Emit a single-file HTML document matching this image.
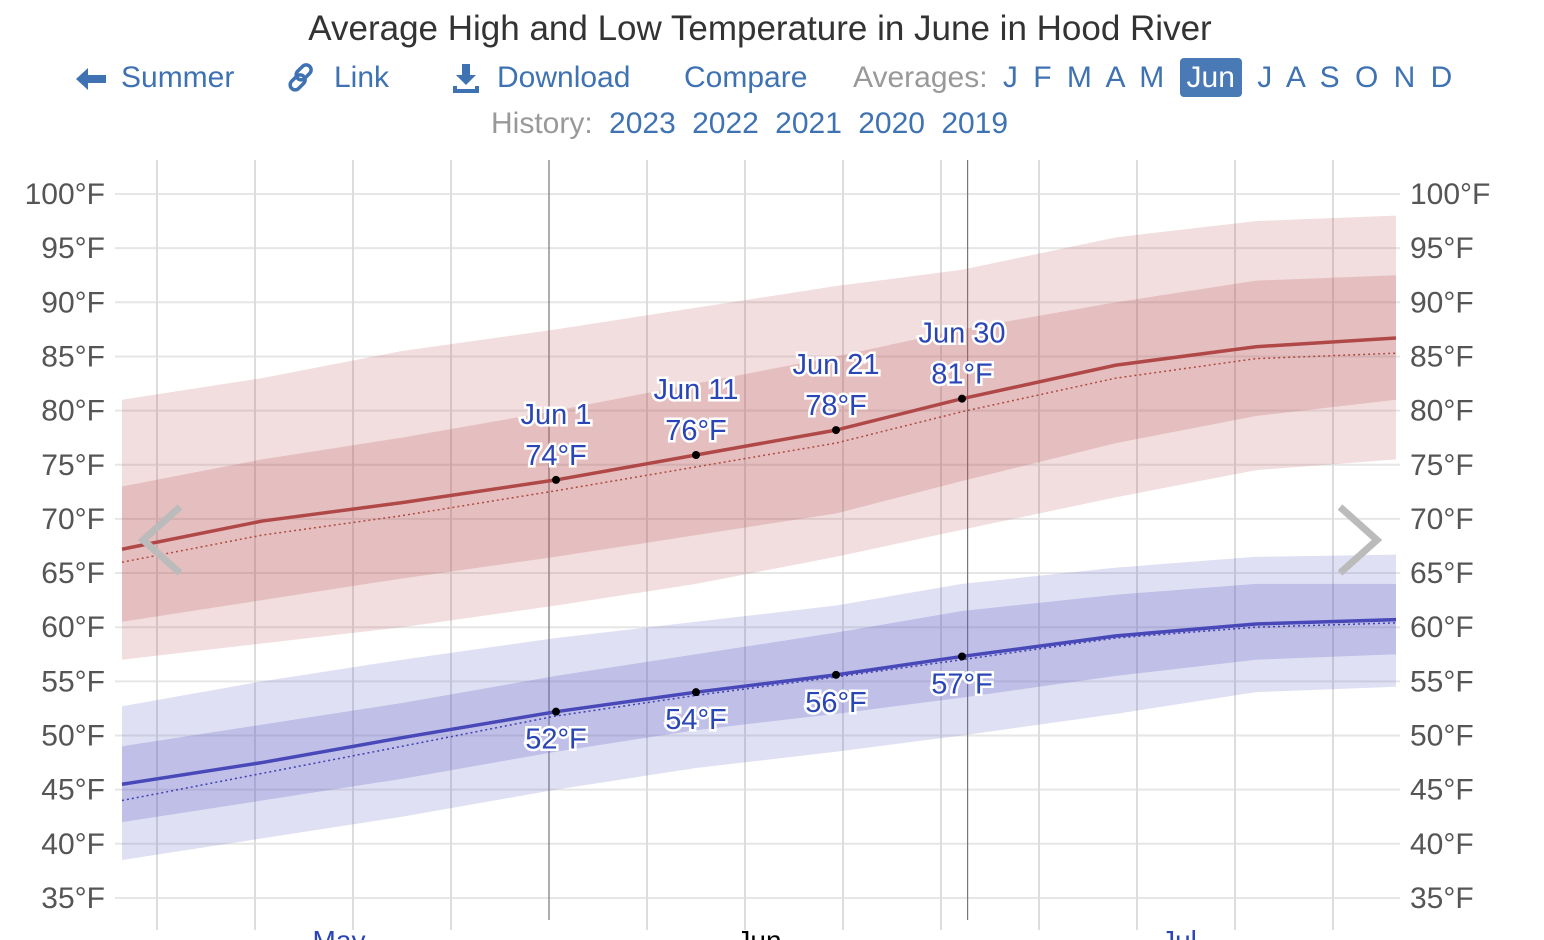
<!DOCTYPE html>
<html><head><meta charset="utf-8">
<style>
body{margin:0;width:1544px;height:940px;overflow:hidden;background:#fff;font-family:"Liberation Sans",sans-serif;}
#title{position:absolute;top:9px;left:0;width:1520px;text-align:center;font-size:35px;color:#333;}
.nav{position:absolute;font-size:30px;color:#3f72b3;white-space:nowrap;}
.g{color:#999;}
#jun{background:#4a7ab5;color:#fff;border-radius:4px;padding:3px 7px;}
.ic{position:absolute;}
</style></head><body>
<div id="title">Average High and Low Temperature in June in Hood River</div>
<svg class="ic" style="left:74px;top:64px" width="34" height="30"><path d="M2,15 L14,4 L14,11 L32,11 L32,19 L14,19 L14,26 Z" fill="#3f72b3"/></svg>
<div class="nav" style="left:121px;top:61px">Summer</div>
<svg class="ic" style="left:287px;top:62px" width="32" height="32"><g fill="none" stroke="#3f72b3" stroke-width="3.5"><rect x="12" y="2" width="10" height="17" rx="5" transform="rotate(45 17 10)"/><rect x="6" y="12" width="10" height="17" rx="5" transform="rotate(45 11 20)"/></g></svg>
<div class="nav" style="left:334px;top:61px">Link</div>
<svg class="ic" style="left:451px;top:62px" width="32" height="32"><path d="M11,2 H19 V13 H25 L15,23 L5,13 H11 Z M2,24 H6 V27 H24 V24 H28 V31 H2 Z" fill="#3f72b3"/></svg>
<div class="nav" style="left:497px;top:61px">Download</div>
<div class="nav" style="left:684px;top:61px">Compare</div>
<div class="nav" style="left:853px;top:61px;word-spacing:7px"><span class="g">Averages:</span> J F M A M <span id="jun">Jun</span> J A S O N D</div>
<div class="nav" style="left:491px;top:107px;word-spacing:8px"><span class="g">History:</span> 2023 2022 2021 2020 2019</div>
<svg id="c" width="1544" height="940" style="position:absolute;left:0;top:0"></svg>
<script>
const days=[-31,-21,-11,0,10,20,29,40,50,60];
const highAvg=[67.2,69.8,71.5,73.6,75.9,78.2,81.1,84.2,85.9,86.7];
const highNorm=[66,68.5,70.3,72.6,74.8,77,79.9,83,84.8,85.3];
const highP25=[60.5,62.5,64.5,66.5,68.5,70.5,73.5,77,79.5,81];
const highP75=[73,75.5,77.5,80,82.5,85,87.5,90,92,92.5];
const highP10=[57,58.5,60,62,64,66.5,69,72,74.5,75.5];
const highP90=[81,83,85.5,87.5,89.5,91.5,93,96,97.5,98];
const lowAvg=[45.5,47.5,49.8,52.2,54,55.6,57.3,59.2,60.3,60.7];
const lowNorm=[44,46.5,49,51.8,53.7,55.4,57,59,60,60.4];
const lowP25=[42,44,46,48.5,50.5,52,53.5,55.5,57,57.5];
const lowP75=[49,51,53,55.5,57.5,59.5,61.5,63,64,64];
const lowP10=[38.5,40.5,42.5,45,47,48.5,50,52,54,54.5];
const lowP90=[52.7,55,57,59,60.5,62,64,65.5,66.5,66.7];
const yTicks=[100,95,90,85,80,75,70,65,60,55,50,45,40,35];
const gridDays=[-28.5,-21.5,-14.5,-7.5,-0.5,6.5,13.5,20.5,27.5,29.4,34.5,41.5,48.5,55.5];
const darkGrid=[-0.5,29.4];
const labelDays=[0,10,20,29];
const labelNames=["Jun 1","Jun 11","Jun 21","Jun 30"];
const labelHigh=[74,76,78,81];
const labelLow=[52,54,56,57];
const months=["May","Jun","Jul"];const monthDays=[-15.5,14.5,44.5];

const X=d=>556+d*14, Y=t=>194+(100-t)*10.83;
const svg=document.getElementById('c');const NS="http://www.w3.org/2000/svg";
function mk(tag,at,name){const e=document.createElementNS(NS,tag);for(const k in at)e.setAttribute(k,at[k]);


svg.appendChild(e);return e;}
yTicks.forEach(t=>{mk('line',{x1:115,x2:1400,y1:Y(t),y2:Y(t),stroke:'#e6e6e6','stroke-width':2},'gridline-'+t);
[['end',105],['start',1410]].forEach(([a,x])=>{const e=mk('text',{x:x,y:Y(t)+10,'text-anchor':a,'font-size':30,fill:'#555'},'y-tick-'+t);e.textContent=t+'°F';});});
gridDays.forEach((d,i)=>{const dk=darkGrid.includes(d);mk('line',{x1:X(d),x2:X(d),y1:160,y2:dk?920:930,stroke:dk?'#777':'#ddd','stroke-width':dk?1.2:2},'vgrid-'+i);});
function band(lo,hi,fill,name){let p=days.map((d,i)=>X(d)+','+Y(hi[i])).join(' ')+' '+days.map((d,i)=>X(d)+','+Y(lo[i])).reverse().join(' ');mk('polygon',{points:p,fill:fill},name);}
function line(v,st,w,dash,name){mk('polyline',{points:days.map((d,i)=>X(d)+','+Y(v[i])).join(' '),fill:'none',stroke:st,'stroke-width':w,'stroke-dasharray':dash||'none','stroke-linejoin':'round'},name);}
band(highP10,highP90,'rgba(190,90,90,0.2)','high-band-10-90');
band(highP25,highP75,'rgba(180,80,80,0.22)','high-band-25-75');
band(lowP10,lowP90,'rgba(100,100,200,0.2)','low-band-10-90');
band(lowP25,lowP75,'rgba(90,90,190,0.25)','low-band-25-75');
line(highNorm,'#b04a40',1.5,'2,3','high-normal-line');
line(lowNorm,'#4040b0',1.5,'2,3','low-normal-line');
line(highAvg,'#b04848',3.5,null,'high-average-line');
line(lowAvg,'#4848b8',3.5,null,'low-average-line');
function lbl(x,y,t,n){const e=mk('text',{x:x,y:y,'text-anchor':'middle','font-size':29,fill:'#2a45b5',stroke:'#fff','stroke-width':5,'paint-order':'stroke'},n);e.textContent=t;}
labelDays.forEach((d,i)=>{const x=X(d);const k=days.indexOf(d);const hy=Y(highAvg[k]),ly=Y(lowAvg[k]);
lbl(x,hy-56,labelNames[i],'high-label-date-'+i);lbl(x,hy-15,labelHigh[i]+'°F','high-label-'+i);lbl(x,ly+37,labelLow[i]+'°F','low-label-'+i);
mk('circle',{cx:x,cy:hy,r:4,fill:'#000'},'high-point-'+i);mk('circle',{cx:x,cy:ly,r:4,fill:'#000'},'low-point-'+i);});
months.forEach((m,i)=>{const e=mk('text',{x:X(monthDays[i]),y:950,'text-anchor':'middle','font-size':28,fill:i==1?'#000':'#2a45b5'},'month-label-'+m);e.textContent=m;});
const a1=mk('polyline',{points:'180,507 143,540 180,573',fill:'none',stroke:'#bbb','stroke-width':7},'prev-arrow');
const a2=mk('polyline',{points:'1340,507 1377,540 1340,573',fill:'none',stroke:'#bbb','stroke-width':7},'next-arrow');
</script>
</body></html>
